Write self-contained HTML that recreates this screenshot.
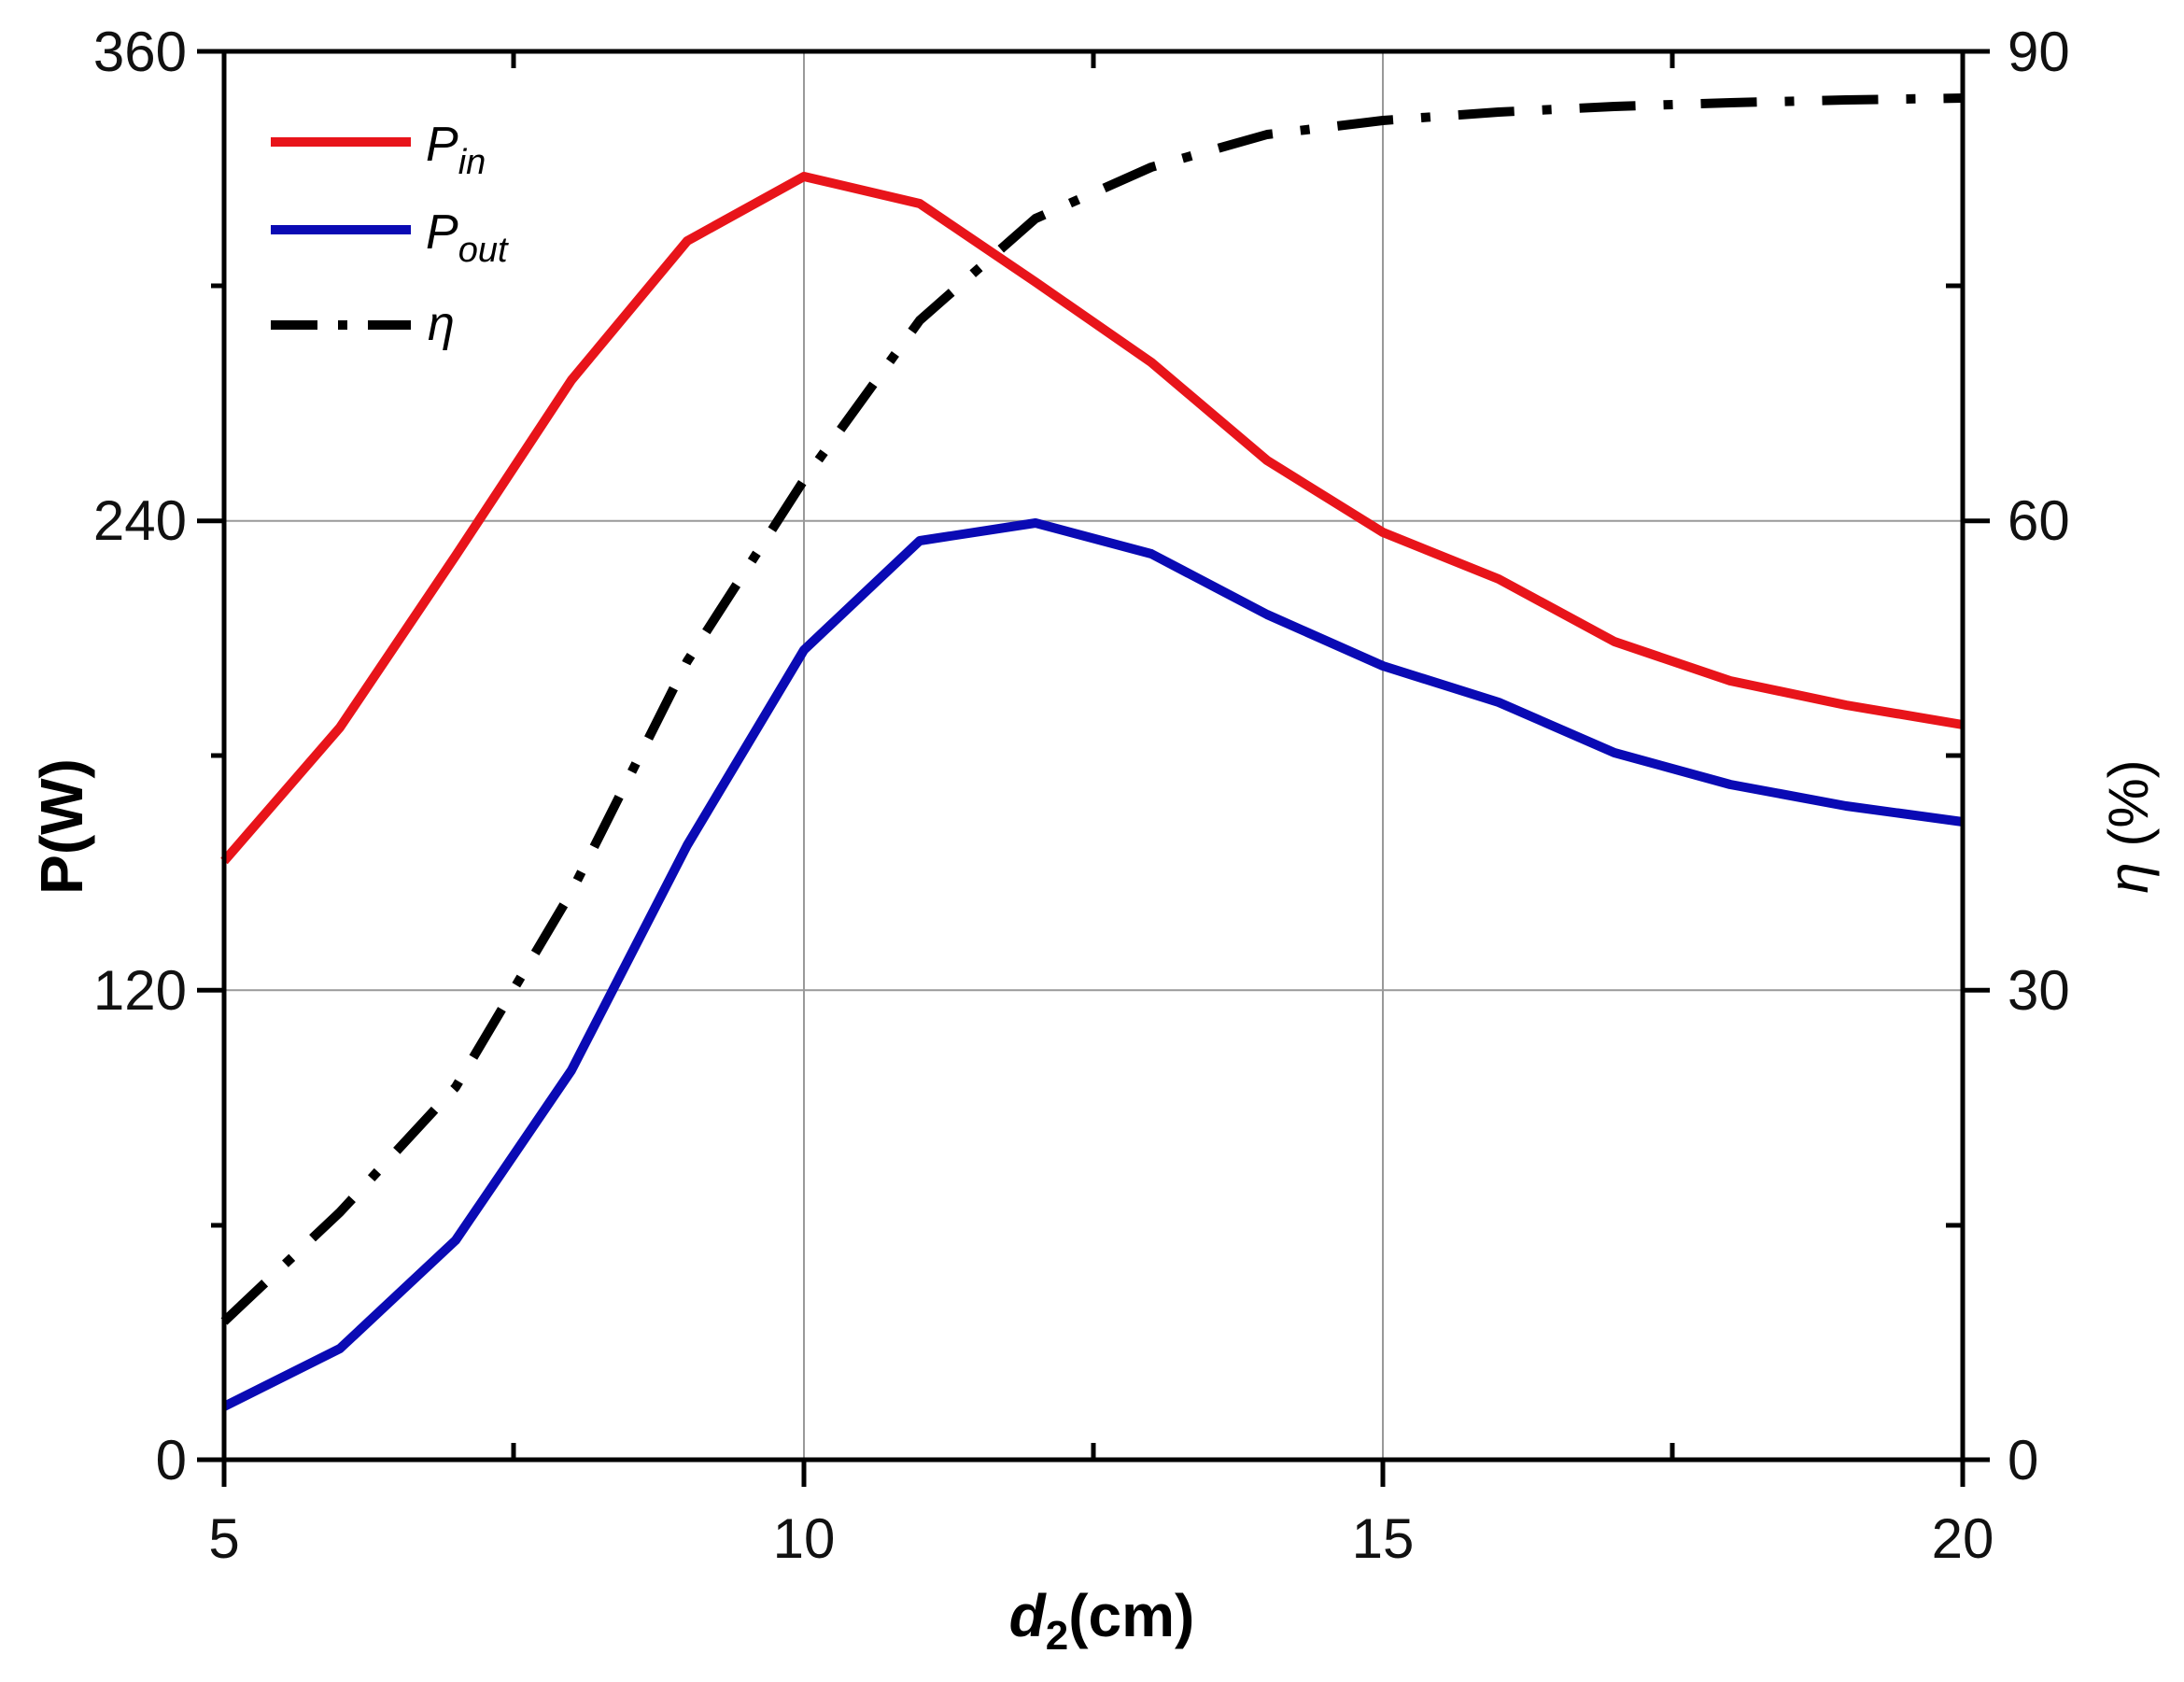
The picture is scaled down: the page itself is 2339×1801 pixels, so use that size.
<!DOCTYPE html>
<html><head><style>body{margin:0;background:#fff}</style></head><body>
<svg width="2339" height="1796" xmlns="http://www.w3.org/2000/svg" font-family="Liberation Sans, Arial, sans-serif">
<rect width="2339" height="1796" fill="#fff"/>
<g stroke="#999" stroke-width="2">
<line x1="861" y1="55" x2="861" y2="1563"/><line x1="1481" y1="55" x2="1481" y2="1563"/>
<line x1="240" y1="1060.3" x2="2102" y2="1060.3"/><line x1="240" y1="557.7" x2="2102" y2="557.7"/>
</g>
<g fill="none" stroke-linejoin="round" stroke-width="10">
<polyline stroke="#e8141a" points="240,922 364,779 488,595 612,407 736,258 861,189 985,218 1109,302 1233,388 1357,493 1481,570 1605,620 1729,687 1853,729 1977,755 2102,776"/>
<polyline stroke="#0a0ab4" points="240,1506 364,1444 488,1328 612,1146 736,905 861,696 985,579 1109,560 1233,593 1357,658 1481,713 1605,752 1729,806 1853,840 1977,863 2102,880"/>
<polyline stroke="#000" stroke-dasharray="60,30,10,30" points="240,1415 364,1298 488,1164 612,955 736,708 861,514 985,343 1109,234 1233,179 1357,144 1481,129 1605,120 1729,114 1853,110 1977,107 2102,105"/>
</g>
<g stroke="#000" stroke-width="5" fill="none">
<rect x="240" y="55" width="1862" height="1508"/>
<line x1="240" y1="1563" x2="240" y2="1592"/><line x1="861" y1="1563" x2="861" y2="1592"/><line x1="1481" y1="1563" x2="1481" y2="1592"/><line x1="2102" y1="1563" x2="2102" y2="1592"/>
<line x1="550" y1="1563" x2="550" y2="1545"/><line x1="1171" y1="1563" x2="1171" y2="1545"/><line x1="1791" y1="1563" x2="1791" y2="1545"/>
<line x1="550" y1="55" x2="550" y2="73"/><line x1="1171" y1="55" x2="1171" y2="73"/><line x1="1791" y1="55" x2="1791" y2="73"/>
<line x1="211" y1="55" x2="240" y2="55"/><line x1="211" y1="557.7" x2="240" y2="557.7"/><line x1="211" y1="1060.3" x2="240" y2="1060.3"/><line x1="211" y1="1563" x2="240" y2="1563"/>
<line x1="226" y1="306" x2="240" y2="306"/><line x1="226" y1="809" x2="240" y2="809"/><line x1="226" y1="1312" x2="240" y2="1312"/>
<line x1="2102" y1="55" x2="2131" y2="55"/><line x1="2102" y1="557.7" x2="2131" y2="557.7"/><line x1="2102" y1="1060.3" x2="2131" y2="1060.3"/><line x1="2102" y1="1563" x2="2131" y2="1563"/>
<line x1="2084" y1="306" x2="2102" y2="306"/><line x1="2084" y1="809" x2="2102" y2="809"/><line x1="2084" y1="1312" x2="2102" y2="1312"/>
</g>
<g font-size="60" fill="#111">
<g text-anchor="end"><text x="200" y="76">360</text><text x="200" y="578">240</text><text x="200" y="1081">120</text><text x="200" y="1584">0</text></g>
<g text-anchor="start"><text x="2150" y="76">90</text><text x="2150" y="578">60</text><text x="2150" y="1081">30</text><text x="2150" y="1584">0</text></g>
<g text-anchor="middle"><text x="240" y="1668">5</text><text x="861" y="1668">10</text><text x="1481" y="1668">15</text><text x="2102" y="1668">20</text></g>
</g>
<text x="1180" y="1752" text-anchor="middle" font-size="64" font-weight="bold"><tspan font-style="italic">d</tspan><tspan font-size="44" dy="14">2</tspan><tspan dy="-14">(cm)</tspan></text>
<text transform="translate(88,885) rotate(-90)" text-anchor="middle" font-size="64" font-weight="bold">P(W)</text>
<text transform="translate(2300,885) rotate(-90)" text-anchor="middle" font-size="60"><tspan font-style="italic">η</tspan> (%)</text>
<g stroke-width="10">
<line x1="290" y1="152" x2="440" y2="152" stroke="#e8141a"/>
<line x1="290" y1="246" x2="440" y2="246" stroke="#0a0ab4"/>
<line x1="290" y1="348" x2="440" y2="348" stroke="#000" stroke-dasharray="50,22,10,22"/>
</g>
<g font-size="52" font-style="italic">
<text x="456" y="172">P<tspan font-size="38" dy="14">in</tspan></text>
<text x="456" y="266">P<tspan font-size="38" dy="14">out</tspan></text>
<text x="458" y="364">η</text>
</g>
</svg>
</body></html>
